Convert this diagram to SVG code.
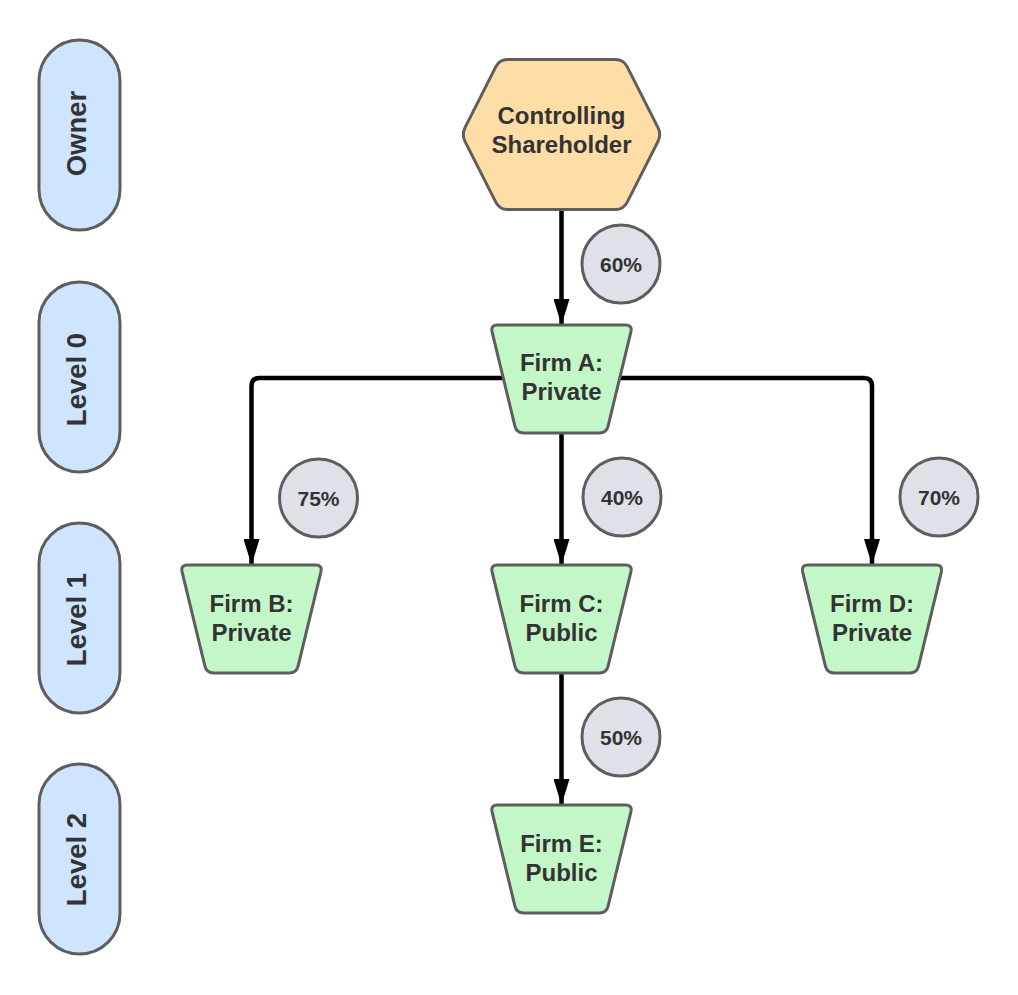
<svg xmlns="http://www.w3.org/2000/svg" width="1018" height="995" viewBox="0 0 1018 995">
<style>
.lane{fill:#CFE4FF;stroke:#5E5E5E;stroke-width:3}
.lanet{font-family:"Liberation Sans",Arial,sans-serif;font-weight:bold;font-size:27.5px;fill:#333333;text-anchor:middle}
.firm{fill:#C3F7C8;stroke:#5E5E5E;stroke-width:3}
.hex{fill:#FFDDA6;stroke:#5E5E5E;stroke-width:3}
.nt{font-family:"Liberation Sans",Arial,sans-serif;font-weight:bold;font-size:24px;fill:#333333;text-anchor:middle}
.pc{fill:#DEE1E8;stroke:#5E5E5E;stroke-width:3}
.pt{font-family:"Liberation Sans",Arial,sans-serif;font-weight:bold;font-size:21px;fill:#333333;text-anchor:middle}
.conn{fill:none;stroke:#000000;stroke-width:4.5}
</style>
<defs>
<marker id="arr" markerUnits="userSpaceOnUse" markerWidth="26" markerHeight="16" refX="26" refY="8" orient="auto" viewBox="0 0 26 16">
<path d="M0,0 L26,8 L0,16 Z" fill="#000000"/>
</marker>
<path id="trap" d="M -64,0 L 64,0 Q 71,0 69.4,6.8 L 46.6,101.2 Q 45,108 38,108 L -38,108 Q -45,108 -46.6,101.2 L -69.4,6.8 Q -71,0 -64,0 Z"/>
</defs>

<g id="lane-owner"><rect class="lane" x="39" y="40" width="81" height="190" rx="40.5"/><text class="lanet" transform="translate(86,133.5) rotate(-90)">Owner</text></g>
<g id="lane-level0"><rect class="lane" x="39" y="282" width="81" height="190" rx="40.5"/><text class="lanet" transform="translate(86,379.5) rotate(-90)">Level 0</text></g>
<g id="lane-level1"><rect class="lane" x="39" y="523" width="81" height="190" rx="40.5"/><text class="lanet" transform="translate(86,619.5) rotate(-90)">Level 1</text></g>
<g id="lane-level2"><rect class="lane" x="39" y="764" width="81" height="190" rx="40.5"/><text class="lanet" transform="translate(86,859.5) rotate(-90)">Level 2</text></g>

<g id="connectors">
<path class="conn" d="M561.5,210 L561.5,325" marker-end="url(#arr)"/>
<path class="conn" d="M510,378 L259.5,378 Q251.5,378 251.5,386 L251.5,565" marker-end="url(#arr)"/>
<path class="conn" d="M612,378 L864,378 Q872,378 872,386 L872,565" marker-end="url(#arr)"/>
<path class="conn" d="M561.5,433 L561.5,565" marker-end="url(#arr)"/>
<path class="conn" d="M561.5,673 L561.5,805" marker-end="url(#arr)"/>
</g>

<g id="controlling-shareholder">
<path class="hex" transform="translate(561.5,134.5)" d="M -54,-75 L 54,-75 Q 62,-75 65.6,-67.9 L 96.4,-7.1 Q 100,0 96.4,7.1 L 65.6,67.9 Q 62,75 54,75 L -54,75 Q -62,75 -65.6,67.9 L -96.4,7.1 Q -100,0 -96.4,-7.1 L -65.6,-67.9 Q -62,-75 -54,-75 Z"/>
<text class="nt" x="561.5" y="124">Controlling</text>
<text class="nt" x="561.5" y="153">Shareholder</text>
</g>

<g id="firm-a"><use href="#trap" class="firm" transform="translate(561.5,325)"/><text class="nt" x="561.5" y="371">Firm A:</text><text class="nt" x="561.5" y="400">Private</text></g>
<g id="firm-b"><use href="#trap" class="firm" transform="translate(251.5,565)"/><text class="nt" x="251.5" y="612">Firm B:</text><text class="nt" x="251.5" y="641">Private</text></g>
<g id="firm-c"><use href="#trap" class="firm" transform="translate(561.5,565)"/><text class="nt" x="561.5" y="612">Firm C:</text><text class="nt" x="561.5" y="641">Public</text></g>
<g id="firm-d"><use href="#trap" class="firm" transform="translate(872,565)"/><text class="nt" x="872" y="612">Firm D:</text><text class="nt" x="872" y="641">Private</text></g>
<g id="firm-e"><use href="#trap" class="firm" transform="translate(561.5,805)"/><text class="nt" x="561.5" y="852">Firm E:</text><text class="nt" x="561.5" y="881">Public</text></g>

<g id="pct-60"><circle class="pc" cx="621" cy="264" r="39"/><text class="pt" x="621" y="271.5">60%</text></g>
<g id="pct-75"><circle class="pc" cx="318.5" cy="498" r="39"/><text class="pt" x="318.5" y="505.5">75%</text></g>
<g id="pct-40"><circle class="pc" cx="622" cy="497" r="39"/><text class="pt" x="622" y="504.5">40%</text></g>
<g id="pct-70"><circle class="pc" cx="939" cy="497" r="39"/><text class="pt" x="939" y="504.5">70%</text></g>
<g id="pct-50"><circle class="pc" cx="621" cy="737" r="39"/><text class="pt" x="621" y="744.5">50%</text></g>
</svg>
